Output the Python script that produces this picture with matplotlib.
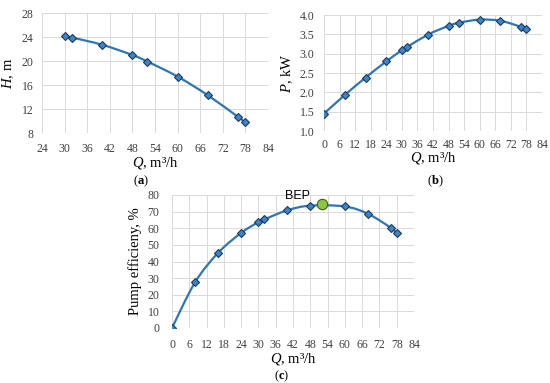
import numpy as np
import matplotlib
matplotlib.use('Agg')
import matplotlib.pyplot as plt
from matplotlib.path import Path
from matplotlib.patches import PathPatch

# (a) head curve
q_h = [30, 32, 40, 48, 52, 60, 68, 76, 78]
head = [24.1, 23.9, 22.7, 21.0, 19.9, 17.4, 14.3, 10.7, 9.8]

# (b) power curve
q_p = [0, 8, 16, 24, 30, 32, 40, 48, 52, 60, 68, 76, 78]
power = [1.45, 1.93, 2.38, 2.80, 3.09, 3.17, 3.49, 3.72, 3.80, 3.88, 3.85, 3.69, 3.63]

# (c) efficiency curve
q_e = [0, 8, 16, 24, 30, 32, 40, 48, 60, 68, 76, 78]
eff = [0, 27.5, 45.2, 57.2, 63.7, 65.3, 70.8, 73.6, 73.1, 68.7, 60.2, 57.0]
bep_q, bep_eff = 52, 74.3

LINE = '#2E75B6'
FACE = '#3A86C8'
EDGE = '#1F3B5C'
GRID = '#D9D9D9'

plt.rcParams['font.family'] = ['Liberation Serif', 'DejaVu Serif']
plt.rcParams['mathtext.fontset'] = 'custom'
plt.rcParams['mathtext.it'] = 'Liberation Serif:italic'
plt.rcParams['mathtext.rm'] = 'Liberation Serif'
plt.rcParams['mathtext.bf'] = 'Liberation Serif:bold'

QLABEL = '$Q$, m³/h'


def smooth_line(ax, x, y):
    # Excel-like smoothed line: cubic bezier through the points
    x = np.asarray(x, float)
    y = np.asarray(y, float)
    verts = [(x[0], y[0])]
    codes = [Path.MOVETO]
    n = len(x)
    for i in range(n - 1):
        x0, y0 = (x[i - 1], y[i - 1]) if i > 0 else (x[i], y[i])
        x3, y3 = (x[i + 2], y[i + 2]) if i + 2 < n else (x[i + 1], y[i + 1])
        c1 = (x[i] + (x[i + 1] - x0) / 6, y[i] + (y[i + 1] - y0) / 6)
        c2 = (x[i + 1] - (x3 - x[i]) / 6, y[i + 1] - (y3 - y[i]) / 6)
        verts += [c1, c2, (x[i + 1], y[i + 1])]
        codes += [Path.CURVE4] * 3
    ax.add_patch(PathPatch(Path(verts, codes), facecolor='none',
                           edgecolor=LINE, lw=1.6, zorder=2))
    ax.plot(x, y, 'D', ms=4.3, mfc=FACE, mec=EDGE, mew=0.8, zorder=3)


def style(ax, xpad, ypad):
    ax.grid(True, color=GRID, lw=0.7)
    ax.set_axisbelow(True)
    for s in ax.spines.values():
        s.set_visible(False)
    ax.tick_params(length=0, labelsize=8.5, colors='#404040')
    ax.tick_params(axis='x', pad=xpad)
    ax.tick_params(axis='y', pad=ypad)


fig = plt.figure(figsize=(5.5, 3.83), dpi=100)

ax1 = fig.add_axes([42 / 550, 1 - 133 / 383, 226 / 550, 120 / 383])
smooth_line(ax1, q_h, head)
ax1.set_xlim(24, 84)
ax1.set_xticks(range(24, 85, 6))
ax1.set_ylim(8, 28)
ax1.set_yticks(range(8, 29, 4))
style(ax1, 7, 6)
ax1.set_xlabel(QLABEL, fontsize=10.5, labelpad=0)
ax1.set_ylabel('$H$, m', fontsize=10.5, labelpad=4)

ax2 = fig.add_axes([324 / 550, 1 - 131 / 383, 218 / 550, 116 / 383])
smooth_line(ax2, q_p, power)
ax2.set_xlim(0, 84)
ax2.set_xticks(range(0, 85, 6))
ax2.set_ylim(1.0, 4.0)
ax2.set_yticks(np.arange(1.0, 4.01, 0.5))
ax2.yaxis.set_major_formatter(matplotlib.ticker.FormatStrFormatter('%.1f'))
style(ax2, 6, 7)
ax2.set_xlabel(QLABEL, fontsize=10.5, labelpad=-1)
ax2.set_ylabel('$P$, kW', fontsize=10.5, labelpad=3)

ax3 = fig.add_axes([172 / 550, 1 - 328 / 383, 242 / 550, 133 / 383])
smooth_line(ax3, q_e, eff)
ax3.plot([bep_q], [bep_eff], 'o', ms=7.5, mfc='#8DC63F', mec='#3F5F1F', mew=0.8, zorder=4)
ax3.text(bep_q - 4, bep_eff + 1.5, 'BEP', family='Liberation Sans', fontsize=9,
         ha='right', va='bottom')
ax3.set_xlim(0, 84)
ax3.set_xticks(range(0, 85, 6))
ax3.set_ylim(0, 80)
ax3.set_yticks(range(0, 81, 10))
style(ax3, 8, 9)
ax3.set_xlabel(QLABEL, fontsize=10.5, labelpad=0)
ax3.set_ylabel('Pump efficieny, %', fontsize=10.5, labelpad=4)

fig.text(141 / 550, 1 - 181 / 383, r'($\mathbf{a}$)', ha='center', va='center', fontsize=9)
fig.text(435 / 550, 1 - 181 / 383, r'($\mathbf{b}$)', ha='center', va='center', fontsize=9)
fig.text(282 / 550, 1 - 376 / 383, r'($\mathbf{c}$)', ha='center', va='center', fontsize=9)

fig.savefig('out.png', dpi=100)
